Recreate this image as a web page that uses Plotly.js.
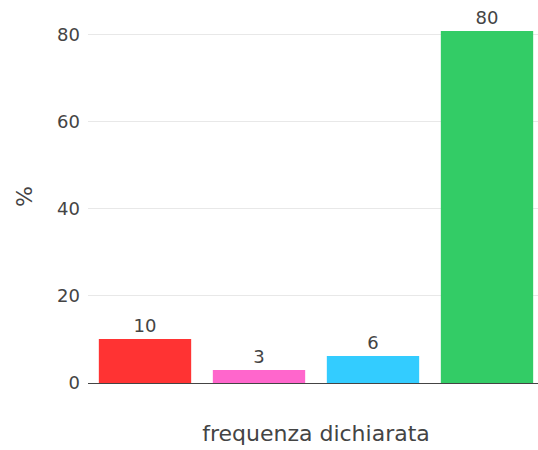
<!DOCTYPE html>
<html>
<head>
<meta charset="utf-8">
<script src="https://cdn.plot.ly/plotly-3.0.1.min.js"></script>
<style>html,body{margin:0;padding:0;overflow:hidden;background:#fff}</style>
</head>
<body>
<div id="chart" style="width:544px;height:450px"></div>
<script>
const categories = ["cat1", "cat2", "cat3", "cat4"];
const values = [10.1, 3.0, 6.2, 80.9];
const labels = ["10", "3", "6", "80"];
const colors = ["#FF3333", "#FF66CC", "#33CCFF", "#33CC66"];

const trace = {
  type: "bar",
  x: categories,
  y: values,
  text: labels,
  textposition: "outside",
  cliponaxis: false,
  textfont: {color: "#444", size: 18},
  marker: {color: colors},
  hoverinfo: "none"
};

const layout = {
  width: 544,
  height: 450,
  margin: {l: 88, r: 0, t: 10, b: 67},
  bargap: 0.19,
  font: {family: "DejaVu Sans, Verdana, sans-serif", size: 18, color: "#444"},
  paper_bgcolor: "#fff",
  plot_bgcolor: "#fff",
  showlegend: false,
  xaxis: {
    showticklabels: false,
    ticks: "",
    automargin: false,
    title: {text: "frequenza dichiarata", font: {size: 22}, standoff: 42}
  },
  yaxis: {
    range: [0, 85.7],
    tickvals: [0, 20, 40, 60, 80],
    ticklabelstandoff: 7,
    gridcolor: "#e8e8e8",
    zeroline: true,
    zerolinecolor: "#444",
    zerolinewidth: 1,
    automargin: false,
    title: {text: "%", font: {size: 22}, standoff: 18}
  }
};

Plotly.newPlot("chart", [trace], layout, {displayModeBar: false, staticPlot: true});
</script>
</body>
</html>
